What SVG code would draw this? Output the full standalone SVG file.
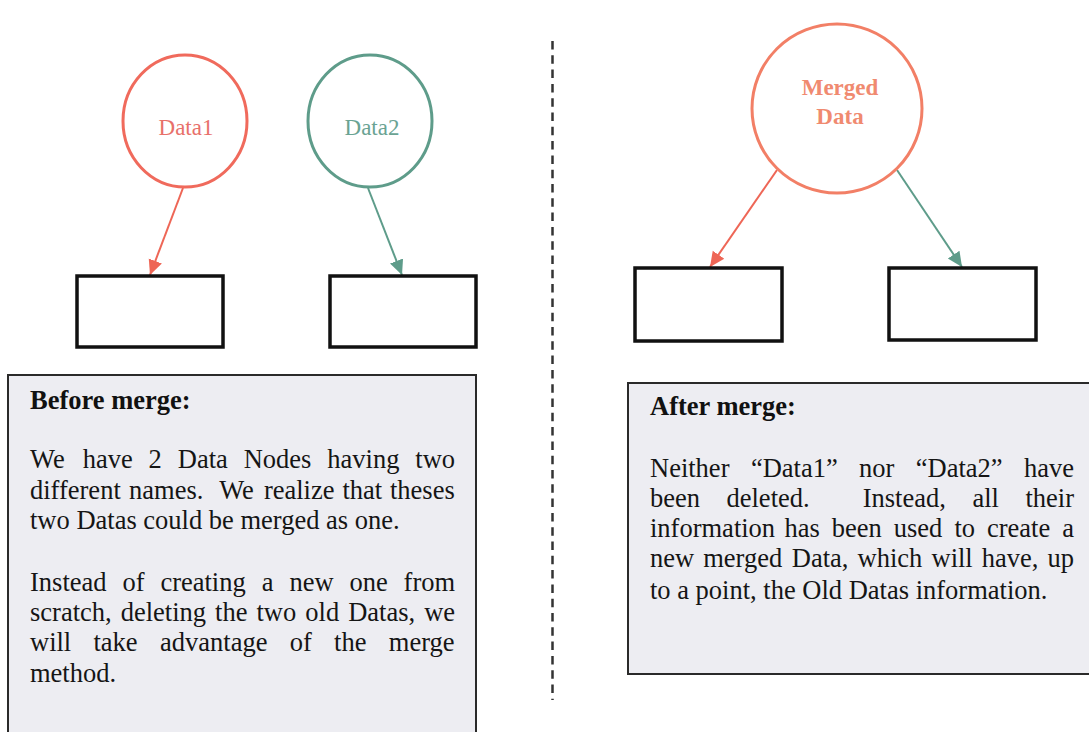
<svg xmlns="http://www.w3.org/2000/svg" width="1089" height="732" viewBox="0 0 1089 732">
  <style>
    .bg { fill: #ffffff; }
    .box { fill: #ffffff; stroke: #111111; stroke-width: 3.5; }
    .note { fill: #ededf2; stroke: #2a2a2a; stroke-width: 2; }
    .head { font-family: "Liberation Serif", "Times New Roman", serif; font-weight: bold; font-size: 26.5px; fill: #111111; }
    .body { font-family: "Liberation Serif", "Times New Roman", serif; font-size: 26.5px; fill: #151515; }
    .lbl { font-family: "Liberation Serif", "Times New Roman", serif; font-size: 23px; text-anchor: middle; }
    .red { stroke: #ee6656; }
    .teal { stroke: #5e9c8a; }
    .sep { stroke: #333333; stroke-width: 2.5; stroke-dasharray: 8.5 5.8; }
    .edge { fill: none; stroke-width: 2; }
  </style>
  <defs>
    <marker id="headRed" markerUnits="userSpaceOnUse" markerWidth="16" markerHeight="16" viewBox="0 0 16 16" refX="15" refY="8" orient="auto">
      <path d="M0,1 L15,8 L0,15 Z" fill="#ee6656"/>
    </marker>
    <marker id="headTeal" markerUnits="userSpaceOnUse" markerWidth="16" markerHeight="16" viewBox="0 0 16 16" refX="15" refY="8" orient="auto">
      <path d="M0,1 L15,8 L0,15 Z" fill="#5e9c8a"/>
    </marker>
  </defs>

  <rect class="bg" x="0" y="0" width="1089" height="732"/>

  <!-- divider between the two states -->
  <line class="sep" x1="552.5" y1="41" x2="552.5" y2="700"/>

  <!-- connectors -->
  <g id="connectors">
    <line class="edge red" x1="183" y1="188" x2="150" y2="275" marker-end="url(#headRed)"/>
    <line class="edge teal" x1="368" y1="188" x2="402" y2="275" marker-end="url(#headTeal)"/>
    <line class="edge red" x1="777" y1="170" x2="710" y2="267" marker-end="url(#headRed)"/>
    <line class="edge teal" x1="897" y1="170" x2="962" y2="267" marker-end="url(#headTeal)"/>
  </g>

  <!-- before merge -->
  <g id="data1">
    <ellipse cx="185" cy="121" rx="62" ry="66" fill="none" stroke="#f06a5c" stroke-width="3"/>
    <text class="lbl" x="186" y="135" fill="#e8706a">Data1</text>
  </g>
  <g id="data2">
    <ellipse cx="370" cy="121" rx="62" ry="66" fill="none" stroke="#5e9c8a" stroke-width="3"/>
    <text class="lbl" x="372" y="135" fill="#6aa393">Data2</text>
  </g>
  <g id="box-left-a">
    <rect class="box" x="77" y="276" width="146" height="71"/>
  </g>
  <g id="box-left-b">
    <rect class="box" x="330" y="276" width="146" height="71"/>
  </g>

  <!-- after merge -->
  <g id="merged">
    <ellipse cx="837" cy="108.5" rx="85" ry="84.5" fill="none" stroke="#f27f66" stroke-width="3"/>
    <text class="lbl" x="840" y="95" fill="#f08a70" font-weight="bold">Merged</text>
    <text class="lbl" x="840" y="124" fill="#f08a70" font-weight="bold">Data</text>
  </g>
  <g id="box-right-a">
    <rect class="box" x="635" y="268" width="147" height="73"/>
  </g>
  <g id="box-right-b">
    <rect class="box" x="889" y="268" width="147" height="72"/>
  </g>

  <!-- note: before merge (justified lines placed word by word) -->
  <g id="note-before">
    <rect class="note" x="8" y="375" width="468" height="372"/>
    <text class="head" x="30" y="409">Before merge:</text>
    <text class="body" y="468">
      <tspan x="30">We</tspan><tspan x="82.7">have</tspan><tspan x="148.6">2</tspan><tspan x="177.8">Data</tspan><tspan x="243.7">Nodes</tspan><tspan x="327.3">having</tspan><tspan x="415.3">two</tspan>
    </text>
    <text class="body" y="499">
      <tspan x="30">different</tspan><tspan x="129.1">names.</tspan><tspan x="219.2">We</tspan><tspan x="263.9">realize</tspan><tspan x="342.4">that</tspan><tspan x="390">theses</tspan>
    </text>
    <text class="body" x="30" y="529">two Datas could be merged as one.</text>
    <text class="body" y="591">
      <tspan x="30">Instead</tspan><tspan x="122.4">of</tspan><tspan x="160.4">creating</tspan><tspan x="261.7">a</tspan><tspan x="289.4">new</tspan><tspan x="349.4">one</tspan><tspan x="403.6">from</tspan>
    </text>
    <text class="body" y="621">
      <tspan x="30">scratch,</tspan><tspan x="120.7">deleting</tspan><tspan x="215.1">the</tspan><tspan x="256.5">two</tspan><tspan x="305.3">old</tspan><tspan x="348.2">Datas,</tspan><tspan x="424.2">we</tspan>
    </text>
    <text class="body" y="651">
      <tspan x="30">will</tspan><tspan x="93.5">take</tspan><tspan x="160">advantage</tspan><tspan x="289.7">of</tspan><tspan x="334.1">the</tspan><tspan x="388.8">merge</tspan>
    </text>
    <text class="body" x="30" y="682">method.</text>
  </g>

  <!-- note: after merge (justified lines placed word by word) -->
  <g id="note-after">
    <rect class="note" x="628" y="383" width="470" height="291"/>
    <text class="head" x="650" y="415">After merge:</text>
    <text class="body" y="477">
      <tspan x="650">Neither</tspan><tspan x="750.9">“Data1”</tspan><tspan x="859.1">nor</tspan><tspan x="915.8">“Data2”</tspan><tspan x="1024">have</tspan>
    </text>
    <text class="body" y="507">
      <tspan x="650">been</tspan><tspan x="726.5">deleted.</tspan><tspan x="862.7">Instead,</tspan><tspan x="972.4">all</tspan><tspan x="1025.4">their</tspan>
    </text>
    <text class="body" y="537">
      <tspan x="650">information</tspan><tspan x="784.5">has</tspan><tspan x="831.8">been</tspan><tspan x="893.8">used</tspan><tspan x="954.4">to</tspan><tspan x="987">create</tspan><tspan x="1062.2">a</tspan>
    </text>
    <text class="body" y="567">
      <tspan x="650">new</tspan><tspan x="703.2">merged</tspan><tspan x="791.8">Data,</tspan><tspan x="857.6">which</tspan><tspan x="931.5">will</tspan><tspan x="981.8">have,</tspan><tspan x="1047.6">up</tspan>
    </text>
    <text class="body" x="650" y="599">to a point, the Old Datas information.</text>
  </g>
</svg>
